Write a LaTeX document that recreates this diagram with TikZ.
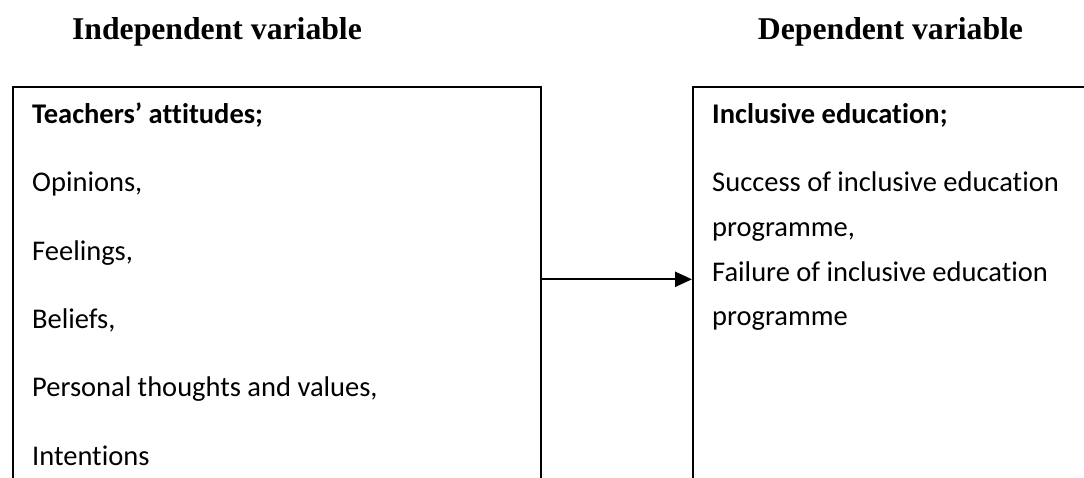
\documentclass[tikz,border=0pt]{standalone}
\usepackage{fontspec}
\setmainfont{Carlito}[Ligatures=CommonOff]
\newfontfamily\headfont{Liberation Serif}
\usetikzlibrary{arrows.meta}
\begin{document}
\begin{tikzpicture}[x=1pt,y=-1pt,
  box/.style={draw, line width=2.2pt, anchor=north west, inner sep=0pt, minimum width=#1, minimum height=520pt},
  body/.style={anchor=base west, inner sep=0pt, font=\fontsize{28.5}{34}\selectfont},
  bodyb/.style={anchor=base west, inner sep=0pt, font=\fontsize{28.5}{34}\selectfont\bfseries},
  head/.style={anchor=base, inner sep=0pt, font=\headfont\bfseries\fontsize{31.7}{38}\selectfont},
  link/.style={line width=2.2pt, -{Triangle[length=17pt,width=15pt]}}]
\useasboundingbox (0,0) rectangle (1084,477);
\clip (0,0) rectangle (1084,477);
\fill[white] (0,0) rectangle (1084,477);

\node[head] (hl) at (217,39.5) {Independent variable};
\node[head] (hr) at (890.5,39.5) {Dependent variable};

\node[box=528pt] (lbox) at (12,86) {};
\node[box=500pt] (rbox) at (692,86) {};

\node[bodyb] (l0) at (32,123) {Teachers’ attitudes;};
\node[body] (l1) at (32,191.7) {Opinions,};
\node[body] (l2) at (32,260) {Feelings,};
\node[body] (l3) at (32,328.3) {Beliefs,};
\node[body] (l4) at (32,396.7) {Personal thoughts and values,};
\node[body] (l5) at (32,465) {Intentions};

\node[bodyb] (r0) at (712,123) {Inclusive education;};
\node[body] (r1) at (712,191.7) {Success of inclusive education};
\node[body] (r2) at (712,236.5) {programme,};
\node[body] (r3) at (712,281) {Failure of inclusive education};
\node[body] (r4) at (712,325.5) {programme};

\coordinate (ay) at (0,279.3);
\draw[link] (lbox.east |- ay) -- (rbox.west |- ay);
\end{tikzpicture}
\end{document}
